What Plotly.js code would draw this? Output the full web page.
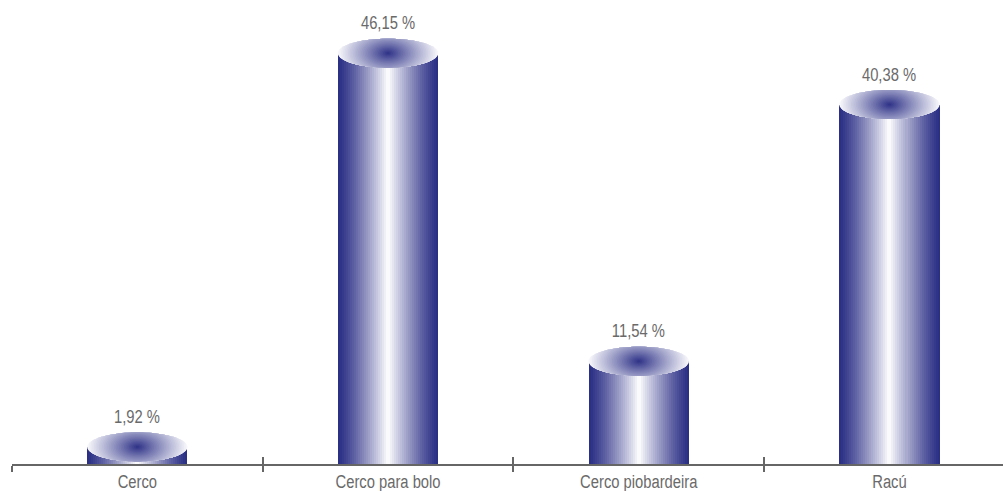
<!DOCTYPE html>
<html>
<head>
<meta charset="utf-8">
<script src="https://cdn.plot.ly/plotly-3.0.1.min.js"></script>
<style>html,body{margin:0;padding:0;background:#fff;}#chart{width:1003px;height:491px;}</style>
</head>
<body>
<div id="chart"></div>
<script>
// Data
const categories = ["Cerco", "Cerco para bolo", "Cerco piobardeira", "Racú"];
const values = [1.92, 46.15, 11.54, 40.38];

// Style
const FONT = '"Liberation Sans", Arial, sans-serif';
const NARROW = 0.82;
const TEXT_COLOR = '#6a6a6a';
const DARK = [42, 46, 132];
const LIGHT = [255, 255, 255];
const TOPLIGHT = [246, 246, 251];
const BAR_W = 0.4;
const SLICES = 50;

function mix(a, b, f) {
  return 'rgb(' + a.map((v, i) => Math.round(v + (b[i] - v) * f)).join(',') + ')';
}

const traces = [];
const step = BAR_W / SLICES;
for (let i = 0; i < SLICES; i++) {
  const off = -BAR_W / 2 + i * step;
  const w = Math.min(step * 1.6, BAR_W / 2 - off);
  const centerPos = (i + 0.5) / SLICES;
  const t = 1 - Math.abs(centerPos - 0.5) * 2;
  const f = Math.pow(t, 1.25);
  traces.push({
    type: 'bar', x: categories, y: values,
    offset: off, width: w,
    marker: {color: mix(DARK, LIGHT, f), line: {width: 0}},
    hoverinfo: 'skip', showlegend: false
  });
}
traces.push({type: 'scatter', x: [0], y: [0], xaxis: 'x2', mode: 'markers',
  marker: {opacity: 0}, hoverinfo: 'skip', showlegend: false});

// Cylinder tops: elliptical radial gradient (taller gradient ellipse clipped to the top)
const shapes = [];
const LAYERS = 30;
const EH = 14.5;   // half height, px
const NPTS = 90;
values.forEach((v, idx) => {
  for (let k = 0; k < LAYERS; k++) {
    const s = 1 - k / LAYERS;
    let d = '';
    for (let p = 0; p < NPTS; p++) {
      const th = 2 * Math.PI * p / NPTS;
      const c = Math.cos(th), sn = Math.sin(th);
      const rIn = s / Math.sqrt(c * c + sn * sn / 4);
      const r = Math.min(1, rIn);
      const xx = idx + (BAR_W / 2) * r * c;
      const yy = EH * r * sn;
      d += (p === 0 ? 'M' : 'L') + xx.toFixed(5) + ',' + yy.toFixed(3);
    }
    d += 'Z';
    const f = Math.pow(s, 0.95);
    shapes.push({
      type: 'path', path: d, xref: 'x', yref: 'y', ysizemode: 'pixel', yanchor: v,
      fillcolor: mix(DARK, TOPLIGHT, f), line: {width: 0}, layer: 'above'
    });
  }
});

const annotations = values.map((v, idx) => ({
  x: categories[idx], y: v, xref: 'x', yref: 'y',
  text: v.toFixed(2).replace('.', ',') + ' %',
  showarrow: false, yshift: 30,
  font: {family: FONT, size: 18, color: TEXT_COLOR}
}));

const PXPER = 250.7;
const xr = [-0.5, -0.5 + 991 / PXPER];

const layout = {
  width: 1003, height: 491,
  margin: {l: 12, r: 0, t: 10, b: 27},
  paper_bgcolor: '#ffffff', plot_bgcolor: '#ffffff',
  barmode: 'overlay', bargap: 0, showlegend: false,
  xaxis: {
    type: 'category', categoryorder: 'array', categoryarray: categories,
    range: xr, showgrid: false, zeroline: false,
    showline: true, linecolor: '#666666', linewidth: 2,
    ticks: 'outside', ticklen: 6, tickwidth: 2, tickcolor: '#666666',
    tickson: 'boundaries',
    tickfont: {family: FONT, size: 18, color: TEXT_COLOR}
  },
  xaxis2: {
    overlaying: 'x', anchor: 'y', side: 'bottom', type: 'linear',
    range: xr, showgrid: false, zeroline: false, showline: false,
    tickmode: 'array', tickvals: [-0.5, 0.5, 1.5, 2.5, 3.5],
    ticks: 'inside', ticklen: 7, tickwidth: 2, tickcolor: '#666666',
    showticklabels: false
  },
  yaxis: {range: [0, 51], visible: false, showgrid: false, zeroline: false},
  shapes: shapes, annotations: annotations, hovermode: false
};

function narrowText(gd) {
  gd.querySelectorAll('g.xtick text, text.annotation-text').forEach(t => {
    const L = t.getComputedTextLength();
    if (L > 0) {
      t.setAttribute('lengthAdjust', 'spacingAndGlyphs');
      t.setAttribute('textLength', (L * NARROW).toFixed(2));
    }
  });
}

Plotly.newPlot('chart', traces, layout, {displayModeBar: false, staticPlot: true})
  .then(gd => narrowText(gd));
</script>
</body>
</html>
